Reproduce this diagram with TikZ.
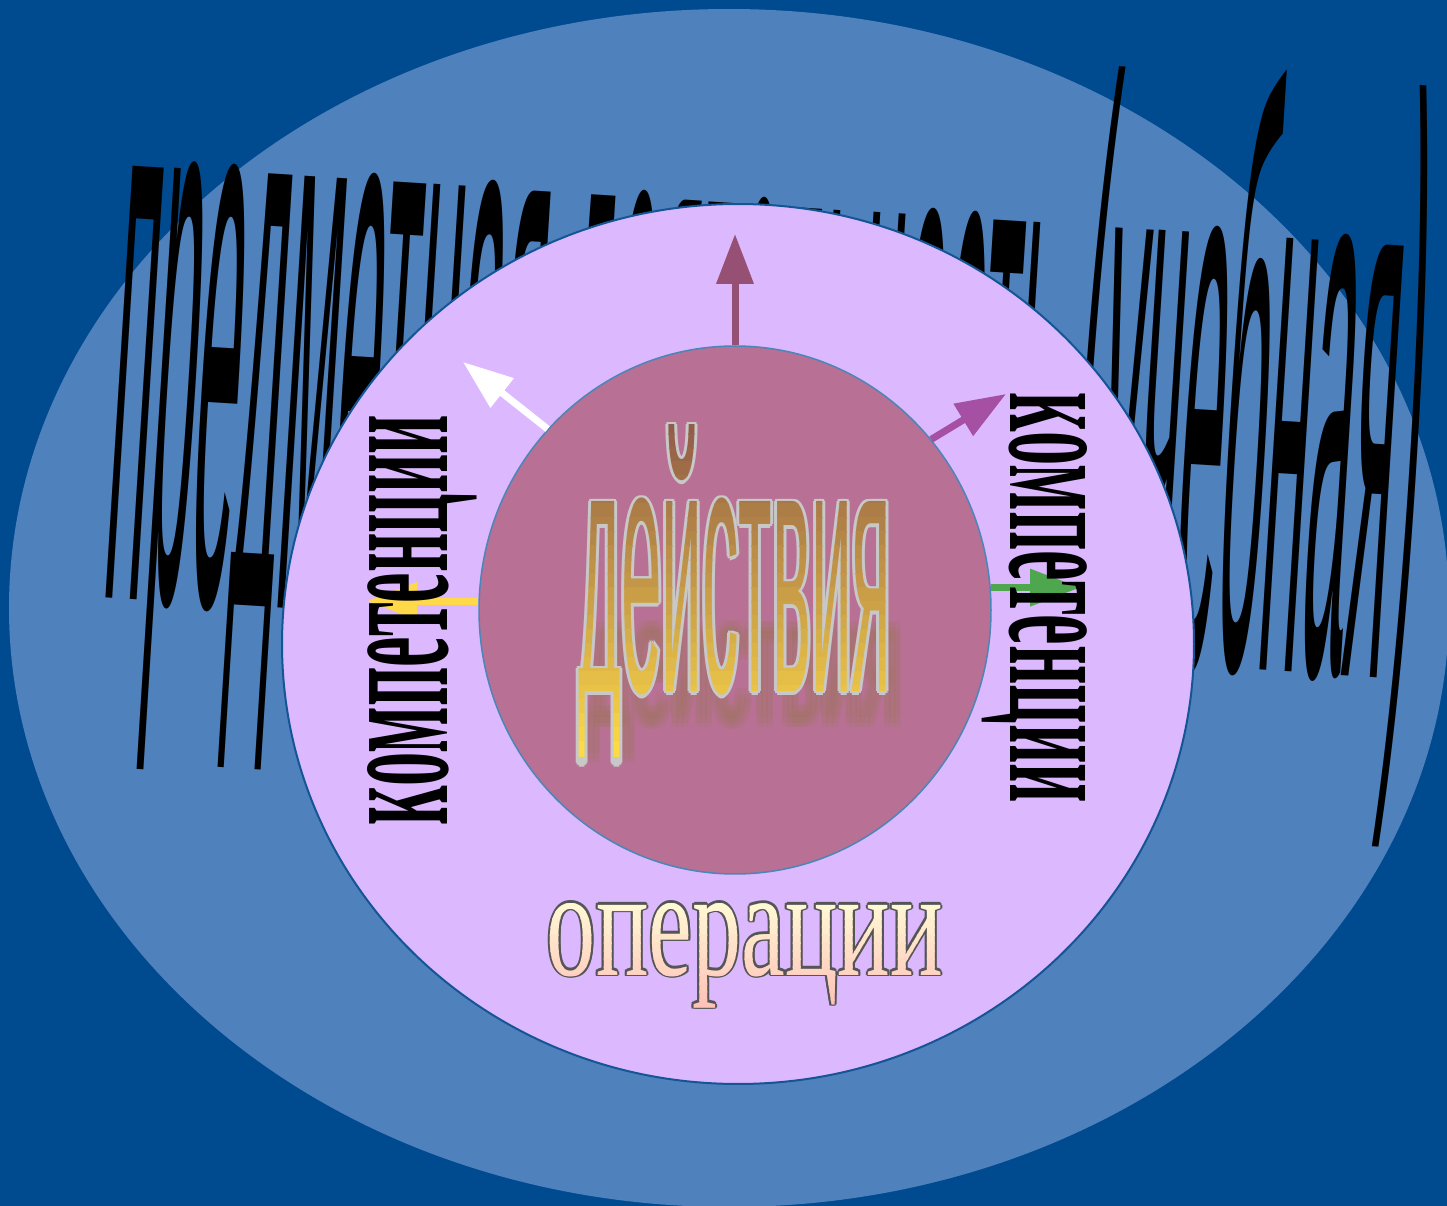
\documentclass[tikz,border=0pt]{standalone}
\usepackage{fontspec}
\setmainfont{Liberation Serif}
\newfontfamily\sansfont{Liberation Sans}
\usetikzlibrary{shapes.geometric, arrows.meta}

\definecolor{deepblue}{RGB}{0,74,143}
\definecolor{fieldblue}{RGB}{79,129,189}
\definecolor{lilac}{RGB}{220,184,255}
\definecolor{rimblue}{RGB}{20,85,150}
\definecolor{coremauve}{RGB}{184,112,148}
\definecolor{coreedge}{RGB}{74,134,184}
\definecolor{plumarrow}{RGB}{149,80,115}
\definecolor{orchidarrow}{RGB}{165,80,162}
\definecolor{leafarrow}{RGB}{78,166,78}
\definecolor{sunarrow}{RGB}{255,217,74}
\definecolor{acttop}{RGB}{145,92,72}
\definecolor{actbot}{RGB}{252,218,70}
\definecolor{actedge}{RGB}{200,200,200}
\definecolor{actshade}{RGB}{160,120,95}
\definecolor{opstop}{RGB}{255,252,215}
\definecolor{opsbot}{RGB}{255,185,180}
\definecolor{opsedge}{RGB}{85,85,85}

\newcommand{\actword}{\sansfont\resizebox{31.3mm}{26.7mm}{действия}}
\newcommand{\opsword}{\resizebox{39.6mm}{7.2mm}{операции}}

\begin{document}
\begin{tikzpicture}[x=0.1mm, y=-0.1mm, >={Triangle[length=5mm, width=3.6mm]},
    ring/.style={ellipse, inner sep=0},
    spoke/.style={->, line width=0.7mm},
    word/.style={inner sep=0, anchor=base}]
    % Frame
    \useasboundingbox (0,0) rectangle (1447,1206);
    \fill[deepblue] (0,0) rectangle (1447,1206);
    \node[ring, fill=fieldblue, minimum width=144mm, minimum height=119.8mm] (field) at (729,608) {};

    % Title
    \node[inner sep=0, anchor=base west, rotate=-3.6] (title) at (100,597)
        {\sansfont\resizebox{131mm}{60mm}{предметная деятельность (учебная)}};

    % Rings
    \node[ring, draw=rimblue, line width=0.2mm, fill=lilac,
          minimum width=91.2mm, minimum height=88mm] (ops) at (738,644) {};
    \node[ring, draw=coreedge, line width=0.15mm, fill=coremauve,
          minimum width=51.2mm, minimum height=52.8mm] (act) at (735,610) {};

    % Arrows
    \coordinate (tipN) at (735,234);
    \coordinate (tipW) at (463,362);
    \coordinate (tipE) at (1006,394);
    \coordinate (tipG) at (1080,588);
    \coordinate (tipY) at (367,602);
    \draw[spoke, plumarrow] (act.north) -- (tipN);
    \draw[spoke, white] (act.136) -- (tipW);
    \draw[spoke, orchidarrow] (act.41) -- (tipE);
    \draw[spoke, leafarrow] (act.5) -- (tipG |- act.5);
    \draw[spoke, sunarrow] (act.178) -- (tipY |- act.178);

    % Competences
    \node[word, rotate=90] (compL) at (447,620) {\bfseries\resizebox{41mm}{8mm}{компетенции}};
    \node[word, rotate=-90] (compR) at (1010,598) {\bfseries\resizebox{41mm}{7.7mm}{компетенции}};

    % Actions: shadow, rim, fill
    \foreach \dx in {-5,0,5}
        \foreach \dy in {-5,0,5}
            \node[word, text=actshade, opacity=0.14] (actshadow) at ({745+\dx},{723+\dy})
                {\sansfont\resizebox{31.3mm}{13.4mm}{действия}};
    \foreach \dx/\dy in {3/0,-3/0,0/3,0/-3,2/2,2/-2,-2/2,-2/-2}
        \node[word, text=actedge] (actrim) at ({735+\dx},{692+\dy}) {\actword};
    \foreach \i in {0,...,23}{
        \pgfmathsetmacro{\ya}{420+14*\i}
        \pgfmathtruncatemacro{\mix}{100*\i/23}
        \begin{scope}
            \clip (560,\ya) rectangle (910,{\ya+15});
            \node[word, text=actbot!\mix!acttop] (actfill) at (735,692) {\actword};
        \end{scope}
    }

    % Operations
    \foreach \dx/\dy in {2/0,-2/0,0/2,0/-2,1.5/1.5,1.5/-1.5,-1.5/1.5,-1.5/-1.5}
        \node[word, text=opsedge] (opsrim) at ({745+\dx},{975+\dy}) {\opsword};
    \foreach \i in {0,...,15}{
        \pgfmathsetmacro{\ya}{895+8*\i}
        \pgfmathtruncatemacro{\mix}{100*\i/15}
        \begin{scope}
            \clip (530,\ya) rectangle (960,{\ya+9});
            \node[word, text=opsbot!\mix!opstop] (opsfill) at (745,975) {\opsword};
        \end{scope}
    }
\end{tikzpicture}
\end{document}
